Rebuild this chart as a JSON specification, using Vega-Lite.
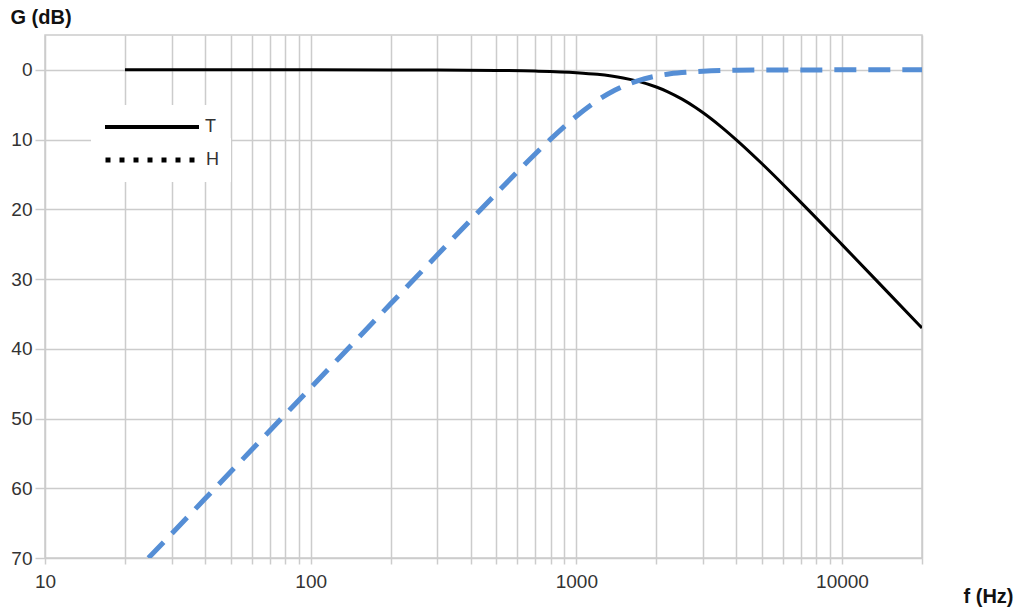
{
  "$schema": "https://vega.github.io/schema/vega-lite/v6.json",
  "width": 877,
  "height": 523,
  "autosize": {"type": "none"},
  "padding": {"left": 45, "top": 35, "right": 99, "bottom": 55},
  "background": "white",
  "config": {
    "view": {"stroke": "#cccccc", "strokeWidth": 1.5},
    "font": "Liberation Sans",
    "legend": {
      "orient": "none",
      "direction": "vertical",
      "fillColor": "white",
      "padding": 12,
      "symbolType": "stroke",
      "symbolSize": 8836,
      "symbolStrokeColor": "#000000",
      "symbolStrokeWidth": 4,
      "clipHeight": 20,
      "labelFontSize": 18,
      "labelColor": "#333333",
      "labelOffset": 4,
      "labelFont": "Liberation Sans"
    }
  },
  "data": {
    "values": [
      {"f": 20, "G": 0, "s": "T"},
      {"f": 50, "G": 0.0, "s": "T"},
      {"f": 100, "G": 0.0, "s": "T"},
      {"f": 200, "G": 0.01, "s": "T"},
      {"f": 300, "G": 0.03, "s": "T"},
      {"f": 500, "G": 0.08, "s": "T"},
      {"f": 700, "G": 0.17, "s": "T"},
      {"f": 1000, "G": 0.4, "s": "T"},
      {"f": 1200, "G": 0.64, "s": "T"},
      {"f": 1500, "G": 1.16, "s": "T"},
      {"f": 1700, "G": 1.61, "s": "T"},
      {"f": 2000, "G": 2.46, "s": "T"},
      {"f": 2200, "G": 3.11, "s": "T"},
      {"f": 2500, "G": 4.2, "s": "T"},
      {"f": 2800, "G": 5.36, "s": "T"},
      {"f": 3000, "G": 6.15, "s": "T"},
      {"f": 3500, "G": 8.13, "s": "T"},
      {"f": 4000, "G": 10.03, "s": "T"},
      {"f": 5000, "G": 13.46, "s": "T"},
      {"f": 7000, "G": 19.0, "s": "T"},
      {"f": 10000, "G": 25.06, "s": "T"},
      {"f": 15000, "G": 32.05, "s": "T"},
      {"f": 20000, "G": 37.02, "s": "T"},
      {"f": 24.5, "G": 70.0, "s": "H"},
      {"f": 30, "G": 66.51, "s": "H"},
      {"f": 40, "G": 61.51, "s": "H"},
      {"f": 50, "G": 57.64, "s": "H"},
      {"f": 70, "G": 51.79, "s": "H"},
      {"f": 100, "G": 45.6, "s": "H"},
      {"f": 150, "G": 38.55, "s": "H"},
      {"f": 200, "G": 33.55, "s": "H"},
      {"f": 300, "G": 26.52, "s": "H"},
      {"f": 400, "G": 21.54, "s": "H"},
      {"f": 500, "G": 17.71, "s": "H"},
      {"f": 600, "G": 14.62, "s": "H"},
      {"f": 700, "G": 12.07, "s": "H"},
      {"f": 800, "G": 9.94, "s": "H"},
      {"f": 1000, "G": 6.65, "s": "H"},
      {"f": 1200, "G": 4.39, "s": "H"},
      {"f": 1400, "G": 2.89, "s": "H"},
      {"f": 1700, "G": 1.57, "s": "H"},
      {"f": 2000, "G": 0.89, "s": "H"},
      {"f": 2200, "G": 0.62, "s": "H"},
      {"f": 2500, "G": 0.39, "s": "H"},
      {"f": 3000, "G": 0.19, "s": "H"},
      {"f": 4000, "G": 0.06, "s": "H"},
      {"f": 5000, "G": 0.03, "s": "H"},
      {"f": 7000, "G": 0.01, "s": "H"},
      {"f": 10000, "G": 0.0, "s": "H"},
      {"f": 20000, "G": 0.0, "s": "H"}
    ]
  },
  "encoding": {
    "x": {
      "field": "f",
      "type": "quantitative",
      "scale": {"type": "log", "domain": [10, 20000], "nice": false},
      "axis": {
        "values": [10, 20, 30, 40, 50, 60, 70, 80, 90, 100, 200, 300, 400, 500, 600, 700, 800, 900, 1000, 2000, 3000, 4000, 5000, 6000, 7000, 8000, 9000, 10000, 20000],
        "format": "d",
        "labelExpr": "indexof([10, 100, 1000, 10000], datum.value) >= 0 ? datum.label : ''",
        "labelFlush": false,
        "domain": false,
        "grid": true,
        "gridColor": "#cccccc",
        "gridWidth": 1.5,
        "tickColor": "#cccccc",
        "tickWidth": 1.5,
        "tickSize": 6,
        "labelPadding": 8,
        "labelFontSize": 19,
        "labelColor": "#333333",
        "labelFont": "Liberation Sans",
        "title": "f (Hz)",
        "titleFontSize": 20,
        "titleFontWeight": "bold",
        "titleColor": "#111111",
        "titleAlign": "left",
        "titleBaseline": "middle",
        "titleAnchor": "start",
        "titleX": 918,
        "titleY": 38
      }
    },
    "y": {
      "field": "G",
      "type": "quantitative",
      "scale": {"domain": [-5, 70], "reverse": true, "nice": false, "zero": false},
      "axis": {
        "values": [0, 10, 20, 30, 40, 50, 60, 70],
        "domain": false,
        "grid": true,
        "gridColor": "#cccccc",
        "gridWidth": 1.5,
        "tickColor": "#cccccc",
        "tickWidth": 1.5,
        "tickSize": 10,
        "labelPadding": 3,
        "labelFontSize": 19,
        "labelColor": "#333333",
        "labelFont": "Liberation Sans",
        "title": "G (dB)",
        "titleAngle": 0,
        "titleFontSize": 20,
        "titleFontWeight": "bold",
        "titleColor": "#111111",
        "titleAlign": "left",
        "titleBaseline": "middle",
        "titleX": -35,
        "titleY": -18
      }
    }
  },
  "resolve": {
    "scale": {"opacity": "independent"},
    "legend": {"opacity": "independent"}
  },
  "layer": [
    {
      "transform": [{"filter": "datum.s === 'T'"}],
      "mark": {"type": "line", "interpolate": "monotone", "clip": true, "color": "#000000", "strokeWidth": 3},
      "encoding": {
        "opacity": {
          "field": "s",
          "type": "nominal",
          "scale": {"domain": ["T"], "range": [1, 1]},
          "legend": {
            "title": null,
            "legendX": 46,
            "legendY": 70
          }
        }
      }
    },
    {
      "transform": [{"filter": "datum.s === 'H'"}],
      "mark": {"type": "line", "interpolate": "monotone", "clip": true, "color": "#558ed5", "strokeWidth": 5, "strokeDash": [22, 12]},
      "encoding": {
        "opacity": {
          "field": "s",
          "type": "nominal",
          "scale": {"domain": ["H"], "range": [1, 1]},
          "legend": {
            "title": null,
            "legendX": 46,
            "legendY": 103,
            "symbolDash": [5, 9],
            "symbolStrokeWidth": 5
          }
        }
      }
    }
  ]
}
